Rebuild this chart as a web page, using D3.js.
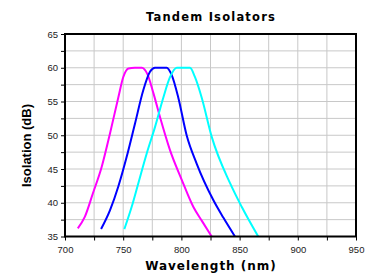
<!DOCTYPE html>
<html>
<head>
<meta charset="utf-8">
<script src="https://cdn.jsdelivr.net/npm/d3@7"></script>
<style>
  body { margin: 0; background: #fff; }
</style>
</head>
<body>
<div id="chart"></div>
<script>
// data
var magentaX = [711, 717, 724, 731.5, 738.7, 745.8, 750, 754.5, 760, 766, 770.7, 776, 781.6, 790.2, 800.3, 810.2, 818, 826];
var magentaY = [36.2, 37.9, 41.4, 45.3, 50.3, 55.6, 58.6, 59.9, 60, 60, 59.1, 56.2, 52.7, 47.8, 43.4, 39.4, 37.2, 35];

var blueX = [731, 738.7, 745.8, 753, 760.1, 767.3, 773, 777.3, 782, 787.4, 791.7, 797.3, 804.5, 813.1, 827.4, 836, 846];
var blueY = [36.1, 38.9, 42.4, 46.8, 51.7, 56.7, 59.4, 60, 60, 60, 58.9, 55.6, 50, 45.8, 40.4, 37.8, 35];

var cyanX = [751, 757.3, 763, 770.2, 777.3, 784.5, 790.2, 796, 802, 807.4, 811.7, 817.4, 826, 841.8, 851.8, 866];
var cyanY = [36.1, 39.4, 42.9, 47.3, 51.2, 55.6, 58.6, 60, 60, 60, 58.6, 55.6, 49.8, 42.9, 39.4, 35];

var seriesColors = ["#ff00ff", "#0000ff", "#00ffff"];
var xTicks = [700, 750, 800, 850, 900, 950];
var yTicks = [35, 40, 45, 50, 55, 60, 65];

function drawChart() {
  var w = 371, h = 275;
  var mLeft = 65, mRight = 356, mTop = 34, mBottom = 236.5;

  var svg = d3.select("#chart").append("svg")
    .attr("width", w)
    .attr("height", h);

  var x = d3.scaleLinear().domain([700, 950]).range([mLeft, mRight]);
  var y = d3.scaleLinear().domain([35, 65]).range([mBottom, mTop]);

  var minorX = d3.range(700, 951, 25);
  var minorY = d3.range(35, 65.1, 2.5);

  // grid
  svg.append("g").selectAll("line").data(minorX).enter().append("line")
    .attr("x1", function(d) { return x(d); }).attr("x2", function(d) { return x(d); })
    .attr("y1", mTop).attr("y2", mBottom)
    .attr("stroke", "#c8c8c8").attr("stroke-width", 1);
  svg.append("g").selectAll("line").data(minorY).enter().append("line")
    .attr("x1", mLeft).attr("x2", mRight)
    .attr("y1", function(d) { return y(d); }).attr("y2", function(d) { return y(d); })
    .attr("stroke", "#c8c8c8").attr("stroke-width", 1);

  // curves
  var line = d3.line()
    .x(function(d) { return x(d[0]); })
    .y(function(d) { return y(d[1]); })
    .curve(d3.curveMonotoneX);

  var series = [d3.zip(magentaX, magentaY), d3.zip(blueX, blueY), d3.zip(cyanX, cyanY)];
  svg.append("g").selectAll("path").data(series).enter().append("path")
    .attr("d", line)
    .attr("fill", "none")
    .attr("stroke", function(d, i) { return seriesColors[i]; })
    .attr("stroke-width", 2);

  // axes with minor ticks
  var xAxis = svg.append("g")
    .attr("transform", "translate(0," + mBottom + ")")
    .call(d3.axisBottom(x).tickValues(minorX).tickSize(4)
      .tickFormat(function(d) { return xTicks.indexOf(d) >= 0 ? d : ""; }));
  var yAxis = svg.append("g")
    .attr("transform", "translate(" + mLeft + ",0)")
    .call(d3.axisLeft(y).tickValues(minorY).tickSize(4)
      .tickFormat(function(d) { return yTicks.indexOf(d) >= 0 ? d : ""; }));
  [xAxis, yAxis].forEach(function(a) {
    a.select(".domain").remove();
    a.selectAll("text")
      .attr("font-family", "Liberation Sans, Arial, sans-serif")
      .attr("font-size", 9.5)
      .attr("fill", "#222");
    a.selectAll("line").attr("stroke", "#000");
  });
  xAxis.selectAll("text").attr("dy", "0.95em");

  // frame
  svg.append("rect")
    .attr("x", mLeft).attr("y", mTop)
    .attr("width", mRight - mLeft).attr("height", mBottom - mTop)
    .attr("fill", "none").attr("stroke", "#000").attr("stroke-width", 2);

  // titles
  svg.append("text")
    .attr("x", 211).attr("y", 21)
    .attr("text-anchor", "middle")
    .attr("font-family", "DejaVu Sans, Verdana, sans-serif")
    .attr("font-weight", "bold")
    .attr("font-size", 11.5)
    .attr("letter-spacing", 1.2)
    .text("Tandem Isolators");

  svg.append("text")
    .attr("x", 211).attr("y", 270)
    .attr("text-anchor", "middle")
    .attr("font-family", "DejaVu Sans, Verdana, sans-serif")
    .attr("font-weight", "bold")
    .attr("font-size", 12)
    .attr("letter-spacing", 1)
    .text("Wavelength (nm)");

  svg.append("text")
    .attr("transform", "translate(31,145.5) rotate(-90)")
    .attr("text-anchor", "middle")
    .attr("font-family", "Liberation Sans, Arial, sans-serif")
    .attr("font-weight", "bold")
    .attr("font-size", 13)
    .text("Isolation (dB)");
}

drawChart();
</script>
</body>
</html>
